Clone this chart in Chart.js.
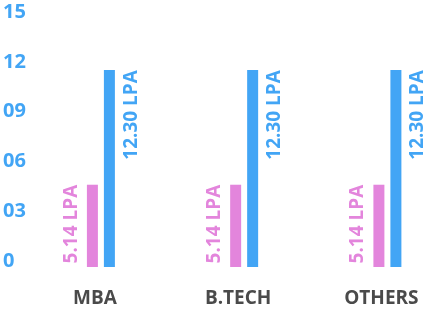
<!DOCTYPE html>
<html>
<head>
<meta charset="utf-8">
<script src="https://cdn.jsdelivr.net/npm/chart.js@4.4.1/dist/chart.umd.min.js"></script>
<style>
  html, body { margin: 0; padding: 0; background: #fff; }
  #wrap { width: 427px; height: 311px; }
</style>
</head>
<body>
<div id="wrap"><canvas id="salaryChart"></canvas></div>
<script>
// Datos del gráfico
const categories = ["MBA", "B.TECH", "OTHERS"];
const averageSalary = [5.14, 5.14, 5.14];
const highestSalary = [12.3, 12.3, 12.3];
const yTickValues = [0, 3, 6, 9, 12, 15];
const yTickLabels = ["0", "03", "06", "09", "12", "15"];

const pink = "#E385DC";
const blue = "#42A5F5";

// Etiquetas giradas junto a cada barra
const barLabels = {
  id: "barLabels",
  afterDatasetsDraw(chart) {
    const ctx = chart.ctx;
    ctx.save();
    ctx.font = "bold 19px 'Open Sans'";
    ctx.textBaseline = "middle";
    ctx.textAlign = "right";
    chart.data.datasets.forEach(function (ds, di) {
      const meta = chart.getDatasetMeta(di);
      meta.data.forEach(function (bar, i) {
        const side = di === 0 ? -21 : 22;
        ctx.save();
        ctx.translate(bar.x + side, bar.y);
        ctx.rotate(-Math.PI / 2);
        ctx.fillStyle = ds.backgroundColor;
        ctx.fillText(ds.data[i].toFixed(2) + " LPA", 0, 0);
        ctx.restore();
      });
    });
    ctx.restore();
  },
};

new Chart(document.getElementById("salaryChart"), {
  type: "bar",
  data: {
    labels: categories,
    datasets: [
      {
        label: "Average",
        data: averageSalary,
        backgroundColor: pink,
        yAxisID: "yBar",
        base: 0,
      },
      {
        label: "Highest",
        data: highestSalary,
        backgroundColor: blue,
        yAxisID: "yBar",
        base: 0,
      },
    ],
  },
  options: {
    responsive: true,
    maintainAspectRatio: false,
    animation: false,
    categoryPercentage: 0.2373,
    barPercentage: 0.647,
    clip: false,
    layout: { padding: { left: 3, right: 39.6, top: 12, bottom: 0 } },
    plugins: { legend: { display: false }, tooltip: { enabled: false } },
    scales: {
      x: {
        offset: false,
        grid: { display: false, drawTicks: false },
        border: { display: false },
        ticks: {
          color: "#4A4A4A",
          font: { family: "'Open Sans'", size: 19, weight: "bold" },
          padding: 26,
          labelOffset: -6,
          maxRotation: 0,
        },
        afterFit(scale) {
          scale.height = 50;
          scale.paddingLeft = 0;
          scale.paddingRight = 0;
        },
      },
      y: {
        min: 0,
        max: 15,
        afterBuildTicks(scale) {
          scale.ticks = yTickValues.map((v) => ({ value: v }));
        },
        grid: { display: false, drawTicks: false },
        border: { display: false },
        ticks: {
          color: blue,
          crossAlign: "far",
          font: { family: "'Open Sans'", size: 20, weight: "bold" },
          callback: (v, i) => yTickLabels[i],
        },
        afterFit(scale) {
          scale.width = 97.9;
          scale.paddingTop = 0;
          scale.paddingBottom = 0;
        },
      },
      yBar: {
        display: false,
        min: 0.375,
        max: 15.93,
      },
    },
  },
  plugins: [barLabels],
});
</script>
</body>
</html>
